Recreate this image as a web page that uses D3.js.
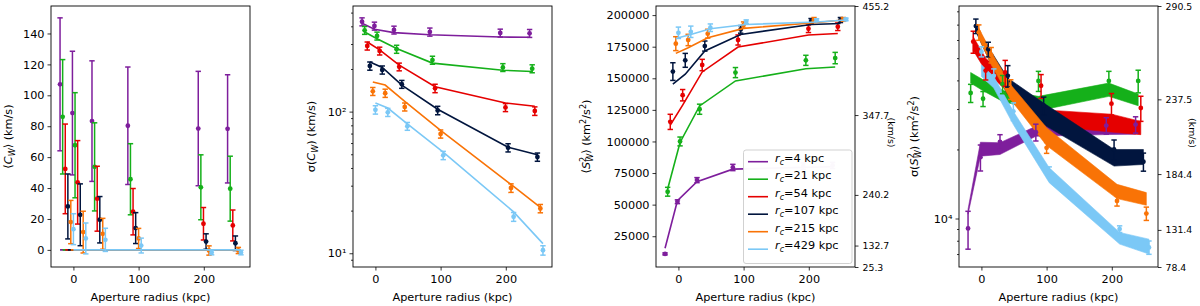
<!DOCTYPE html>
<html><head><meta charset="utf-8">
<script src="https://cdn.jsdelivr.net/npm/d3@7"></script>
<style>
body{margin:0;background:#fff}
svg text{font-family:"DejaVu Sans",sans-serif;fill:#000}
</style></head><body>
<svg id="chart" width="1200" height="306"></svg>
<script>
// ---------------- data ----------------
const rcLabels = ["4", "21", "54", "107", "215", "429"];
const colors = ["#7e1e9c", "#15b01a", "#e50000", "#01153e", "#f97306", "#7bc8f6"];
const apertures = [-10, 9, 39, 94, 202, 247];
const dodge = [-10.5, -6.5, -2.5, 1.5, 6, 10];
const xTicks = [0, 100, 200];

// panel 1: <C_W> (km/s)
const meanC = [
  [107.1, 88.5, 83.3, 80.3, 78.5, 78.3],
  [86.1, 67.7, 53.7, 45.7, 40.5, 39.6],
  [52.4, 43.7, 33.1, 24.7, 16.9, 15.8],
  [28.1, 22.7, 19.5, 14.1, 5.4, 4.3],
  [18.0, 11.5, 10.4, 7.4, -0.4, -0.4],
  [13.4, 7.4, 6.5, 2.8, -1.7, -1.7]
];
const meanCErr = [
  [43, 40, 39, 38, 37, 35],
  [37, 34, 28.5, 23, 21, 21],
  [29, 27, 21, 15, 10.5, 10],
  [21, 20, 15, 10, 5, 4.7],
  [14, 13.5, 10, 6.5, 3, 2],
  [10, 10, 7.5, 4.8, 1.5, 1.5]
];
const meanCModel = [0, 0, 0, 0, 0, 0];
const yTicks1 = [0, 20, 40, 60, 80, 100, 120, 140];

// panel 2: sigma(C_W) (km/s)
const sigC = [
  [431, 402, 377, 365, 359, 357],
  [375, 342, 276, 231, 205, 201],
  [291, 268, 207, 146, 107, 101],
  [210, 197, 156, 102, 55.6, 47.8],
  [139, 135, 108, 69.6, 28.9, 20.7],
  [103, 98.9, 78.8, 49.1, 18.1, 10.5]
];
const sigCErr = [
  [28, 26, 24, 24, 23, 23],
  [24, 22, 18, 15, 13, 13],
  [19, 17, 13, 10, 7, 7],
  [14, 13, 10, 7, 3.7, 3.2],
  [9, 9, 7, 4.6, 2, 1.4],
  [7, 6.5, 5, 3.3, 1.3, 0.8]
];
const sigCModel = [
  [420, 381, 361, 349, 336, 335],
  [365, 327, 279, 220, 196, 192],
  [310, 273, 213, 150, 115, 109],
  [224, 205, 154, 104, 56.1, 49.6],
  [162, 154, 118, 73.6, 30.6, 21.1],
  [115, 106, 81.8, 51.8, 19.6, 11.7]
];
const yMajor2 = [10, 100];
const yMinor2 = [9, 20, 30, 40, 50, 60, 70, 80, 90, 200, 300, 400, 500];

// panel 3: <S^2_W> (km^2/s^2)
const meanS2 = [
  [11000, 52300, 69400, 79400, 80500, 81000],
  [60200, 100000, 125500, 154500, 164200, 166000],
  [115500, 136600, 160500, 180300, 189200, 190800],
  [155300, 164200, 175500, 188700, 195300, 196100],
  [177400, 180300, 185300, 192100, 196600, 196600],
  [186000, 186800, 190000, 194700, 196100, 196600]
];
const meanS2Err = [
  [800, 1500, 2000, 2500, 2500, 2500],
  [3500, 3500, 4000, 4000, 4000, 4500],
  [6000, 4500, 4500, 4000, 3000, 3000],
  [7000, 5500, 4000, 3000, 2000, 2000],
  [5500, 4500, 3500, 2500, 1500, 1500],
  [4500, 4500, 3000, 1500, 1000, 1000]
];
const meanS2Model = [
  [15500, 53100, 68100, 78100, 79500, 80000],
  [62350, 99200, 128100, 147900, 157600, 158900],
  [112900, 128700, 155000, 174700, 184200, 185500],
  [145300, 153200, 171600, 184700, 192600, 193400],
  [169700, 174200, 182100, 189500, 193900, 196100],
  [182100, 184700, 189200, 192600, 194500, 196100]
];
const yTicks3 = [25000, 50000, 75000, 100000, 125000, 150000, 175000, 200000];
const rightTicks3 = [25.3, 132.7, 240.2, 347.7, 455.2];

// panel 4: sigma(S^2_W) (km^2/s^2)
const sigS2 = [
  [9050, 18510, 21590, 23770, 25410, 25660],
  [35240, 33260, 38500, 39800, 39800, 39800],
  [59020, 44160, 43290, 37900, 31650, 30310],
  [69020, 54660, 41880, 31020, 19990, 17680],
  [64800, 51640, 36640, 20330, 11930, 10510],
  [53330, 41880, 29310, 16090, 8990, 7480]
];
const sigS2Err = [
  [1700, 2400, 1600, 2000, 2100, 2100],
  [3200, 2500, 3500, 4000, 4000, 4500],
  [6500, 4000, 5600, 4500, 3400, 3800],
  [5000, 4000, 4500, 2800, 2000, 1600],
  [5000, 4000, 3600, 1100, 600, 700],
  [2700, 3000, 2600, 700, 300, 500]
];
const sigS2BandHi = [
  [10980, 21500, 21400, 25230, 25660, 25700],
  [43290, 40240, 36170, 34070, 38930, 34870],
  [62000, 50000, 42000, 29800, 28500, 26500],
  [69700, 56100, 40930, 31870, 19990, 19990],
  [67600, 53210, 38300, 24890, 14090, 12970],
  [46740, 41590, 29310, 16650, 8695, 8130]
];
const sigS2BandLo = [
  [10440, 18700, 19010, 22830, 23220, 23300],
  [38930, 36060, 32400, 29510, 34070, 31020],
  [54000, 44000, 36500, 25500, 23800, 23200],
  [65190, 49970, 34630, 25660, 16920, 17200],
  [61200, 46770, 32950, 20800, 12210, 11420],
  [41590, 37030, 25660, 14330, 7735, 7000]
];
const yMajor4 = [10000];
const yMinor4 = [7000, 8000, 9000, 20000, 30000, 40000, 50000, 60000, 70000, 80000];
const rightTicks4 = [78.4, 131.4, 184.4, 237.5, 290.5];

// ---------------- layout ----------------
const svg = d3.select("#chart");
const W = 199, TOP = 6, H = 261;
const lefts = [51, 353, 656, 959];
const defs = svg.append("defs");

// font size chosen so the x-axis title spans ~120px like the reference
const probe = svg.append("text").attr("font-size", 100).attr("font-family", "DejaVu Sans").text("Aperture radius (kpc)");
const probeLen = probe.node().getComputedTextLength();
probe.remove();
const FS = probeLen > 0 ? Math.min(13, Math.max(9, 100 * 120 / probeLen)) : 11.25;
const FSR = FS * 0.83;  // twin (right) axis text is smaller

const xsOf = i => apertures.map(a => a + dodge[i]);
const allX = d3.merge(colors.map((c, i) => xsOf(i)));
const xExt = d3.extent(allX);
const xPad = (xExt[1] - xExt[0]) * 0.05;
const xDomain = [xExt[0] - xPad, xExt[1] + xPad];

function makePanel(k) {
  const g = svg.append("g").attr("transform", `translate(${lefts[k]},${TOP})`);
  const id = "clip" + k;
  defs.append("clipPath").attr("id", id).append("rect").attr("width", W).attr("height", H);
  const plot = g.append("g").attr("clip-path", `url(#${id})`);
  const x = d3.scaleLinear().domain(xDomain).range([0, W]);
  return { g, plot, x };
}

function styleAxis(ax, fs) {
  ax.attr("font-size", fs || FS).attr("font-family", "DejaVu Sans");
  ax.select(".domain").remove();
  ax.selectAll("line").attr("stroke", "#000").attr("stroke-width", 0.8);
  ax.selectAll("text").attr("fill", "#000");
}

function xAxis(P) {
  const ax = P.g.append("g").attr("transform", `translate(0,${H})`)
    .call(d3.axisBottom(P.x).tickValues(xTicks).tickSize(3.5).tickPadding(4).tickFormat(d3.format("d")));
  styleAxis(ax);
  P.g.append("text").attr("x", W / 2).attr("y", H + 34).attr("text-anchor", "middle")
    .attr("font-size", FS).text("Aperture radius (kpc)");
}

function frame(P) {
  P.g.append("rect").attr("width", W).attr("height", H).attr("fill", "none")
    .attr("stroke", "#000").attr("stroke-width", 0.9);
}

function rich(sel, parts, fs) {
  const f = fs || FS;
  let cur = 0;
  parts.forEach(p => {
    const shift = p.s === "sup" ? -0.38 * f : p.s === "sub" ? 0.28 * f : 0;
    const ts = sel.append("tspan").text(p.t).attr("dy", shift - cur);
    cur = shift;
    if (p.s) ts.attr("font-size", f * 0.72);
    if (p.i) ts.attr("font-style", "italic");
    if (p.dx) ts.attr("dx", p.dx * f / 11);
  });
}

function yLabel(P, cx, parts) {
  const t = P.g.append("text").attr("transform", `translate(${cx},${H / 2}) rotate(-90)`)
    .attr("text-anchor", "middle").attr("dy", "0.35em").attr("font-size", FS);
  rich(t, parts);
}

function rightLabel(P, cx, cy) {
  P.g.append("text").attr("transform", `translate(${cx},${cy}) rotate(90)`)
    .attr("text-anchor", "middle").attr("dy", "0.35em").attr("font-size", FSR).text("(km/s)");
}

function rightAxis(P, dom, ticks) {
  const yr = d3.scaleLinear().domain(dom).range([H, 0]);
  const axr = P.g.append("g").attr("transform", `translate(${W},0)`)
    .call(d3.axisRight(yr).tickValues(ticks.map(v => v * v)).tickSize(3.5).tickPadding(4)
      .tickFormat(d => Math.sqrt(d).toFixed(1)));
  styleAxis(axr, FSR);
}

function errorbars(plot, x, y, xs, vals, errs, color) {
  const data = xs.map((xv, j) => ({ x: xv, v: vals[j], e: errs[j] }));
  const gg = plot.append("g").attr("stroke", color).attr("stroke-width", 1.5);
  gg.selectAll("line.v").data(data).join("line").attr("class", "v")
    .attr("x1", d => x(d.x)).attr("x2", d => x(d.x))
    .attr("y1", d => y(d.v - d.e)).attr("y2", d => y(d.v + d.e));
  gg.selectAll("line.ct").data(data).join("line").attr("class", "ct")
    .attr("x1", d => x(d.x) - 2.7).attr("x2", d => x(d.x) + 2.7)
    .attr("y1", d => y(d.v + d.e)).attr("y2", d => y(d.v + d.e));
  gg.selectAll("line.cb").data(data).join("line").attr("class", "cb")
    .attr("x1", d => x(d.x) - 2.7).attr("x2", d => x(d.x) + 2.7)
    .attr("y1", d => y(d.v - d.e)).attr("y2", d => y(d.v - d.e));
  plot.append("g").selectAll("circle").data(data).join("circle")
    .attr("cx", d => x(d.x)).attr("cy", d => y(d.v)).attr("r", 2.4).attr("fill", color);
}

function modelLine(plot, x, y, xs, vals, color) {
  const data = xs.map((xv, j) => ({ x: xv, v: vals[j] }));
  plot.append("path").datum(data)
    .attr("d", d3.line().x(d => x(d.x)).y(d => y(d.v)))
    .attr("fill", "none").attr("stroke", color).attr("stroke-width", 1.6);
}

// ---------------- panel 1 ----------------
{
  const P = makePanel(0);
  const lo = d3.min(meanC.map((s, i) => d3.min(s.map((v, j) => v - meanCErr[i][j]))));
  const hi = d3.max(meanC.map((s, i) => d3.max(s.map((v, j) => v + meanCErr[i][j]))));
  const pad = (hi - lo) * 0.05;
  const y = d3.scaleLinear().domain([lo - pad, hi + pad]).range([H, 0]);
  colors.forEach((c, i) => {
    modelLine(P.plot, P.x, y, xsOf(i), meanCModel, c);
    errorbars(P.plot, P.x, y, xsOf(i), meanC[i], meanCErr[i], c);
  });
  const ax = P.g.append("g").call(d3.axisLeft(y).tickValues(yTicks1).tickSize(3.5).tickPadding(3));
  styleAxis(ax);
  xAxis(P); frame(P);
  yLabel(P, -39, [{ t: "⟨" }, { t: "C", i: true }, { t: "W", s: "sub", i: true }, { t: "⟩ (km/s)" }]);
}

// ---------------- panel 2 ----------------
{
  const P = makePanel(1);
  const lo = d3.min(sigC.map((s, i) => d3.min(s.map((v, j) => v - sigCErr[i][j]))));
  const hi = d3.max(sigC.map((s, i) => d3.max(s.map((v, j) => v + sigCErr[i][j]))));
  const l0 = Math.log10(lo), l1 = Math.log10(hi), lp = (l1 - l0) * 0.05;
  const y = d3.scaleLog().domain([10 ** (l0 - lp), 10 ** (l1 + lp)]).range([H, 0]);
  colors.forEach((c, i) => {
    modelLine(P.plot, P.x, y, xsOf(i), sigCModel[i], c);
    errorbars(P.plot, P.x, y, xsOf(i), sigC[i], sigCErr[i], c);
  });
  const sup = { 1: "¹", 2: "²", 4: "⁴" };
  const ax = P.g.append("g").call(d3.axisLeft(y).tickValues(yMajor2).tickSize(3.5).tickPadding(3)
    .tickFormat(d => "10" + sup[Math.round(Math.log10(d))]));
  styleAxis(ax);
  const axm = P.g.append("g").call(d3.axisLeft(y).tickValues(yMinor2.filter(v => v >= y.domain()[0] && v <= y.domain()[1])).tickSize(2).tickFormat(""));
  styleAxis(axm);
  xAxis(P); frame(P);
  yLabel(P, -38, [{ t: "σ(" }, { t: "C", i: true }, { t: "W", s: "sub", i: true }, { t: ") (km/s)" }]);
}

// ---------------- panel 3 ----------------
{
  const P = makePanel(2);
  const dom = [rightTicks3[0] ** 2, rightTicks3[rightTicks3.length - 1] ** 2];
  const y = d3.scaleLinear().domain(dom).range([H, 0]);
  colors.forEach((c, i) => {
    modelLine(P.plot, P.x, y, xsOf(i), meanS2Model[i], c);
    errorbars(P.plot, P.x, y, xsOf(i), meanS2[i], meanS2Err[i], c);
  });
  const ax = P.g.append("g").call(d3.axisLeft(y).tickValues(yTicks3).tickSize(3.5).tickPadding(3).tickFormat(d3.format("d")));
  styleAxis(ax);
  rightAxis(P, dom, rightTicks3);
  xAxis(P); frame(P);
  yLabel(P, -66, [{ t: "⟨" }, { t: "S", i: true }, { t: "2", s: "sup" }, { t: "W", s: "sub", i: true, dx: -5 },
    { t: "⟩ (km" }, { t: "2", s: "sup" }, { t: "/s" }, { t: "2", s: "sup" }, { t: ")" }]);
  rightLabel(P, 235, 126.5);

  // legend
  const lg = P.g.append("g").attr("transform", "translate(87.5,144)");
  lg.append("rect").attr("width", 108.5).attr("height", 113.5).attr("rx", 2.5)
    .attr("fill", "#fff").attr("fill-opacity", 0.97).attr("stroke", "#cccccc").attr("stroke-width", 0.9);
  colors.forEach((c, i) => {
    const yy = 11.7 + i * 17.5;
    lg.append("line").attr("x1", 4.5).attr("x2", 24.5).attr("y1", yy).attr("y2", yy)
      .attr("stroke", c).attr("stroke-width", 1.6);
    const t = lg.append("text").attr("x", 31.5).attr("y", yy).attr("dy", "0.35em").attr("font-size", FS);
    rich(t, [{ t: "r", i: true }, { t: "c", s: "sub", i: true }, { t: "=" + rcLabels[i] + " kpc" }]);
  });
}

// ---------------- panel 4 ----------------
{
  const P = makePanel(3);
  const dom = [rightTicks4[0] ** 2, rightTicks4[rightTicks4.length - 1] ** 2];
  const y = d3.scaleLog().domain(dom).range([H, 0]);
  colors.forEach((c, i) => {
    const xs = xsOf(i);
    const data = xs.map((xv, j) => ({ x: xv, lo: sigS2BandLo[i][j], hi: sigS2BandHi[i][j] }));
    P.plot.append("path").datum(data)
      .attr("d", d3.area().x(d => P.x(d.x)).y0(d => y(d.lo)).y1(d => y(d.hi)))
      .attr("fill", c).attr("stroke", c).attr("stroke-width", 0.6);
  });
  colors.forEach((c, i) => {
    errorbars(P.plot, P.x, y, xsOf(i), sigS2[i], sigS2Err[i], c);
  });
  const ax = P.g.append("g").call(d3.axisLeft(y).tickValues(yMajor4).tickSize(3.5).tickPadding(3).tickFormat(() => "10⁴"));
  styleAxis(ax);
  const axm = P.g.append("g").call(d3.axisLeft(y).tickValues(yMinor4).tickSize(2).tickFormat(""));
  styleAxis(axm);
  rightAxis(P, dom, rightTicks4);
  xAxis(P); frame(P);
  yLabel(P, -41, [{ t: "σ(" }, { t: "S", i: true }, { t: "2", s: "sup" }, { t: "W", s: "sub", i: true, dx: -5 },
    { t: ") (km" }, { t: "2", s: "sup" }, { t: "/s" }, { t: "2", s: "sup" }, { t: ")" }]);
  rightLabel(P, 233, 127);
}
</script>
</body></html>
